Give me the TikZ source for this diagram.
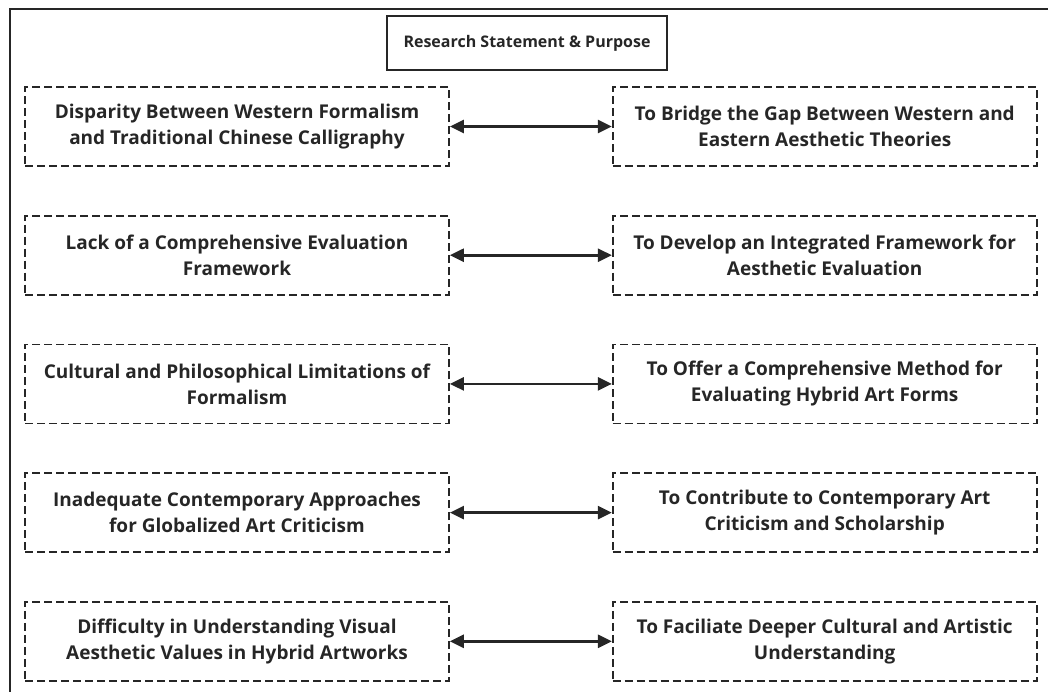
\documentclass[tikz,border=0pt]{standalone}
\usepackage{fontspec}
\setmainfont{Open Sans}
\usetikzlibrary{positioning,arrows.meta}
\definecolor{inkgray}{RGB}{38,38,38}

\begin{document}
\begin{tikzpicture}[
  x=1pt, y=-1pt,
  font=\fontsize{19}{26}\selectfont\bfseries,
  text=inkgray,
  titlebox/.style={draw=inkgray, line width=1.6pt, inner sep=0pt,
                   font=\fontsize{16}{20}\selectfont\bfseries,
                   minimum width=280pt, minimum height=54pt},
  probbox/.style={draw=inkgray, line width=1.7pt, dash pattern=on 8pt off 4pt,
                  align=center, inner sep=0pt,
                  minimum width=424pt, minimum height=79pt},
  link/.style={{Triangle[length=14pt,width=13pt]}-{Triangle[length=14pt,width=13pt]},
               line width=2.6pt, draw=inkgray},
]
\useasboundingbox (0,0) rectangle (1048,691);

% --- outer frame (cut off at right and bottom) ---
\draw[inkgray, line width=1.5pt] (10,700) -- (10,9) -- (1060,9);

% --- heading ---
\node[titlebox] (title) at (527,43) {Research Statement \& Purpose};

% --- research problems (left column) ---
\node[probbox] (prob1) at (237,126.5)
  {Disparity Between Western Formalism\\ and Traditional Chinese Calligraphy};
\node[probbox, below=48pt of prob1] (prob2)
  {Lack of a Comprehensive Evaluation\\ Framework};
\node[probbox, below=48pt of prob2] (prob3)
  {Cultural and Philosophical Limitations of\\ Formalism};
\node[probbox, below=48pt of prob3] (prob4)
  {Inadequate Contemporary Approaches\\ for Globalized Art Criticism};
\node[probbox, below=48pt of prob4] (prob5)
  {Difficulty in Understanding Visual\\ Aesthetic Values in Hybrid Artworks};

% --- purposes (right column) ---
\node[probbox, right=162pt of prob1] (goal1)
  {To Bridge the Gap Between Western and\\ Eastern Aesthetic Theories};
\node[probbox, right=162pt of prob2] (goal2)
  {To Develop an Integrated Framework for\\ Aesthetic Evaluation};
\node[probbox, right=162pt of prob3] (goal3)
  {To Offer a Comprehensive Method for\\ Evaluating Hybrid Art Forms};
\node[probbox, right=162pt of prob4] (goal4)
  {To Contribute to Contemporary Art\\ Criticism and Scholarship};
\node[probbox, right=162pt of prob5] (goal5)
  {To Faciliate Deeper Cultural and Artistic\\ Understanding};

% --- two-way links ---
\foreach \i in {1,...,5}
  \draw[link] (prob\i) -- (goal\i);
\end{tikzpicture}
\end{document}
